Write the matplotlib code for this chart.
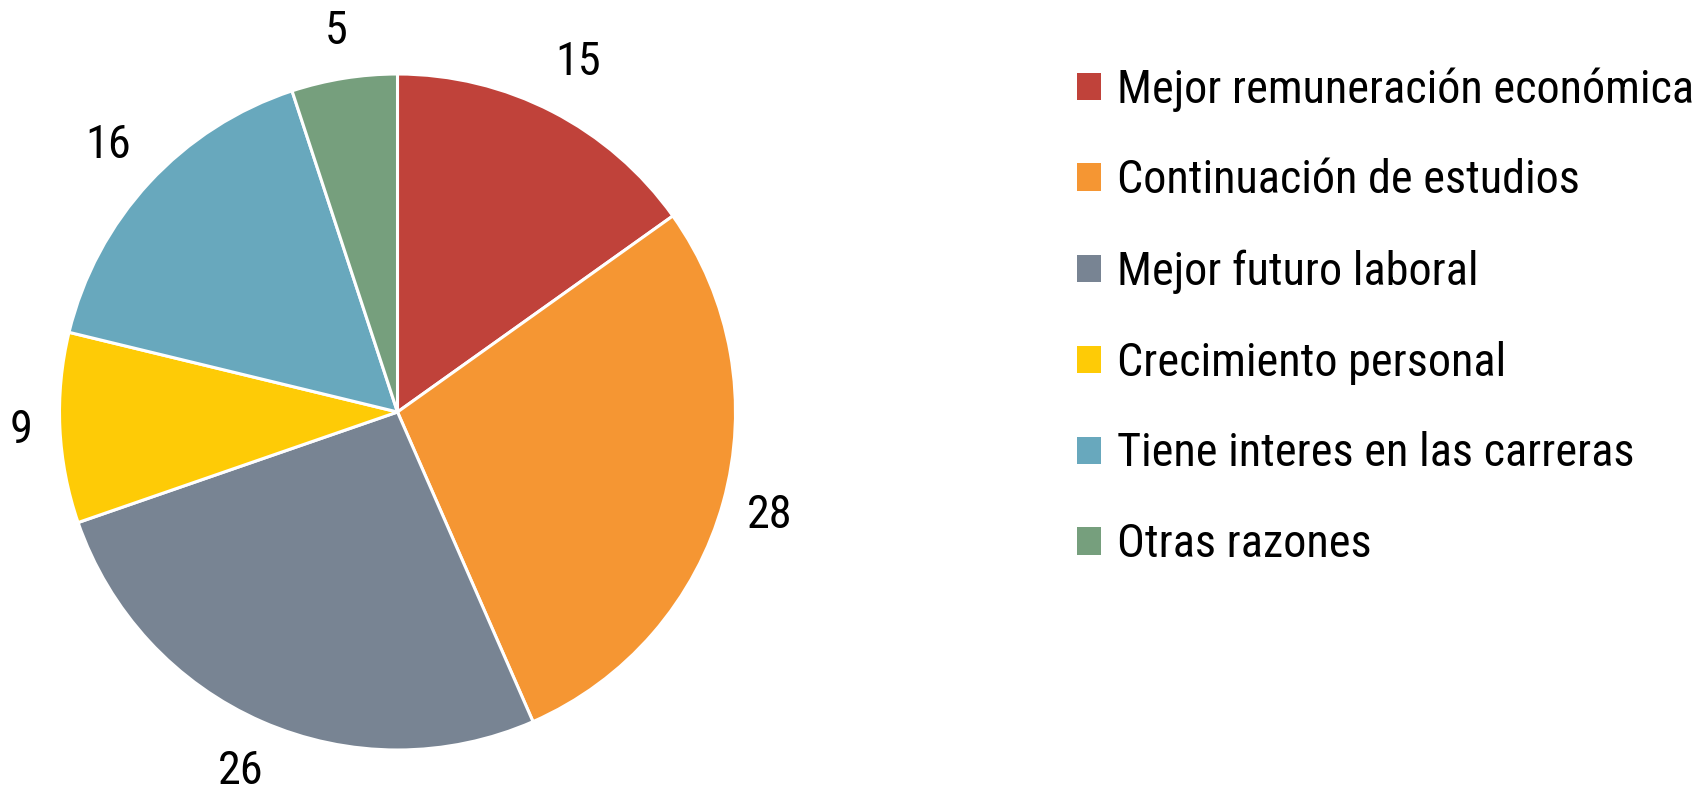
import matplotlib
matplotlib.use("Agg")
import matplotlib.pyplot as plt
import numpy as np
from matplotlib.patches import Patch
from matplotlib import font_manager

categories = ["Mejor remuneración económica", "Continuación de estudios",
              "Mejor futuro laboral", "Crecimiento personal",
              "Tiene interes en las carreras", "Otras razones"]
values = [15, 28, 26, 9, 16, 5]
colors = ["#C0423A", "#F59633", "#788493", "#FECB06", "#68A8BD", "#769F7D"]

names = {f.name for f in font_manager.fontManager.ttflist}
prefs = ["Roboto Condensed", "Barlow Semi Condensed", "IBM Plex Sans Condensed",
         "Open Sans Condensed", "DejaVu Sans"]
fam = next(p for p in prefs if p in names)
plt.rcParams['font.family'] = [fam, "DejaVu Sans"]

fig = plt.figure(figsize=(17.03, 7.92), dpi=100)
W, H = 1703, 792
cx, cy, r = 397.5, 412, 338
ax = fig.add_axes([(cx - r) / W, (H - cy - r) / H, 2 * r / W, 2 * r / H])
wedges, _ = ax.pie(values, colors=colors, startangle=90, counterclock=False,
                   wedgeprops=dict(edgecolor="white", linewidth=2.2), radius=1)
ax.set_xlim(-1, 1)
ax.set_ylim(-1, 1)
ax.set_aspect("equal")
ax.axis("off")

# fit the legend text size so the longest label spans the same width as the reference
renderer = fig.canvas.get_renderer()
probe = fig.text(0, 0, categories[0], fontsize=34)
w34 = probe.get_window_extent(renderer).width
probe.remove()
fs = min(36, 34 * 578 / w34)

dists = [1.166, 1.142, 1.16, 1.115, 1.166, 1.142]
for w, v, d in zip(wedges, values, dists):
    ang = np.deg2rad((w.theta1 + w.theta2) / 2)
    ax.text(d * np.cos(ang), d * np.sin(ang), str(v), ha="center", va="center",
            fontsize=fs, color="black", clip_on=False)

hl = 17.5 / fs
handles = [Patch(facecolor=c, edgecolor="none") for c in colors]
fig.legend(handles, categories, loc="upper left", bbox_to_anchor=(1077 / W, 1 - 67 / H),
           frameon=False, fontsize=fs, handlelength=hl, handleheight=hl,
           handletextpad=11.5 / fs, labelspacing=(73.7 - 1.2 * fs) / fs,
           borderaxespad=0, borderpad=0)

fig.savefig("out.png", dpi=100, facecolor="white")
